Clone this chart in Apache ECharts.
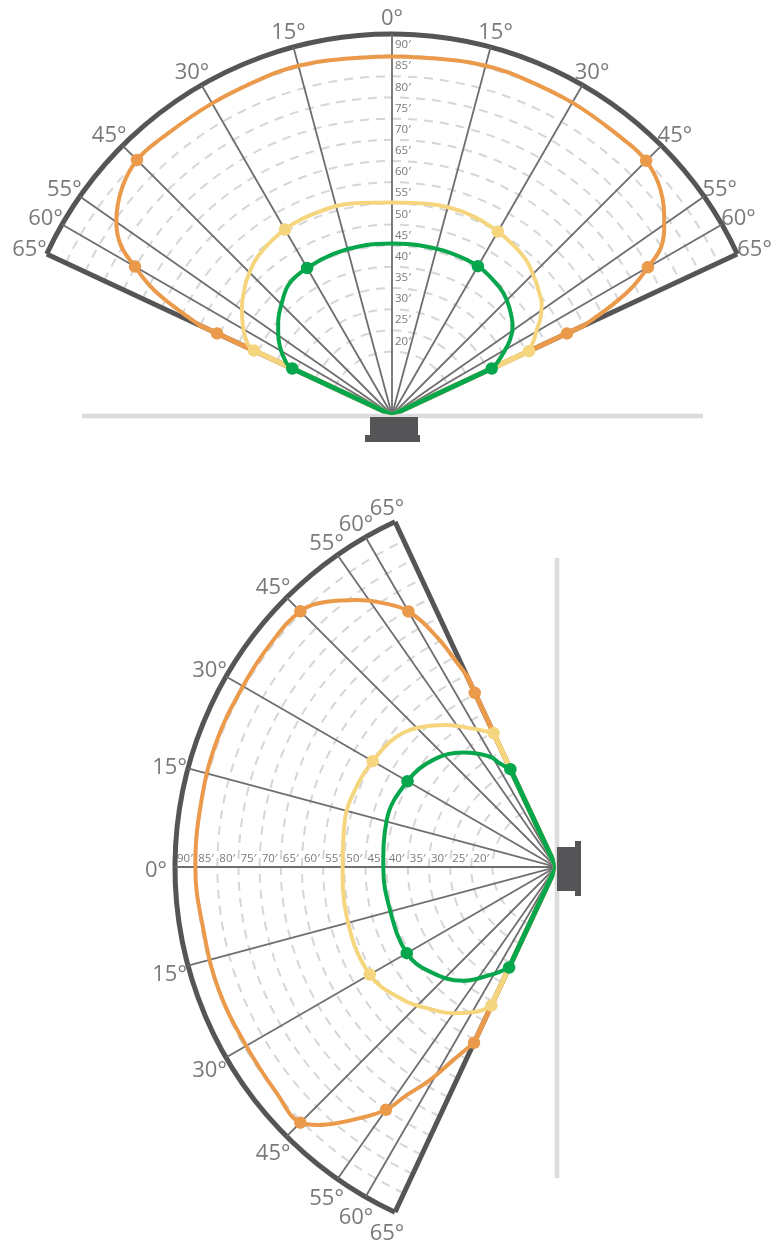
<!DOCTYPE html>
<html><head><meta charset="utf-8">
<script src="https://cdn.jsdelivr.net/npm/echarts@6/dist/echarts.min.js"></script>
<style>html,body{margin:0;padding:0;background:#fff}#c{width:781px;height:1245px}</style>
</head><body><div id="c"></div>
<script>
// ---------------- data (angle in degrees, value in ′) ----------------
const radiusLabelValues = [20,25,30,35,40,45,50,55,60,65,70,75,80,85,90];
const angleLabelValues = [-65,-60,-55,-45,-30,-15,0,15,30,45,55,60,65];
const spokeAngles = [-60,-55,-45,-30,-15,0,15,30,45,55,60];
const frameAngles = [-65,65];

// top chart (negative = left); legs = [angle, outer value] of the straight part down to the speaker
const topOrangeLobe = [[-65,50],[-63.5,58],[-62,64.5],[-60,70.1],[-58,75.5],[-55,79.5],[-50,83.3],[-45,85.2],[-40,85.1],[-30,85],[-20,85.3],[-15,85.4],[-10,85.1],[0,84.7],[10,85.1],[15,85.4],[20,85.4],[30,85.2],[40,85],[45,84.9],[50,82.8],[55,78.5],[58,75],[60,69.8],[62,64.3],[63.5,58],[65,50]];
const topOrangeLegs = [[-65,50],[65,50]];
const topOrangeDots = [[-65,45.6],[-60,70.1],[-45,85.2],[45,84.9],[60,69.8],[65,45.6]];

const topYellowLobe = [[-65,36],[-64,37.8],[-62,39.3],[-60,40.5],[-57,42.2],[-54,43.8],[-50,45.6],[-47,46.9],[-40,49.1],[-30,50.6],[-20,51],[-10,50.8],[0,50.2],[10,50.6],[20,50.8],[30,50],[40,48.6],[47,46.4],[50,45.3],[53.3,44.1],[57,41.8],[59.6,39.6],[62,38],[65,35.7]];
const topYellowLegs = [[-65,36],[65,35.7]];
const topYellowDots = [[-65,36],[-30,50.6],[30,50],[65,35.7]];

const topGreenLobe = [[-65,26],[-64,27.6],[-61,29.6],[-58.6,31],[-55,32.8],[-51,34.6],[-44.6,37.1],[-38,39.4],[-30,40.1],[-20,40.5],[-10,40.6],[0,40.5],[10,40.6],[20,40.7],[30,40.6],[38,39.7],[42.4,39],[47.5,37.6],[53.8,35.3],[57.6,33],[61,30],[63.5,27.8],[65,26]];
const topGreenLegs = [[-65,26],[65,26]];
const topGreenDots = [[-65,26],[-30,40.1],[30,40.6],[65,26]];

// bottom chart (positive = upper half)
const botOrangeLobe = [[-65,45.8],[-62,51.6],[-59.4,58.5],[-56.8,64.4],[-55,70],[-52,75.3],[-49.4,79.7],[-47.3,82.9],[-45,85.4],[-39,84.9],[-30,84.5],[-20,84.8],[-10,84.6],[0,85.2],[10,85.2],[20,85.5],[30,85.4],[38,85.6],[45,85.4],[49.2,82.8],[53.3,78.7],[56.8,74.5],[60,69.7],[62.6,61.3],[64.4,52.5],[65,50]];
const botOrangeLegs = [[65,50],[-65,45.8]];
const botOrangeDots = [[65,45.4],[60,69.7],[45,85.4],[-45,85.4],[-55,70],[-65,45.8]];

const botYellowLobe = [[-65,36.1],[-61.3,39],[-54.9,42.2],[-48,45],[-41.1,47.8],[-30,50.8],[-13.4,50.8],[0,50.4],[12.6,51.1],[21.9,50.8],[30,50],[39.3,48.6],[46.6,45.6],[52.4,42.3],[58.2,38.6],[61.9,36.5],[65,34.9]];
const botYellowLegs = [[65,34.9],[-65,36.1]];
const botYellowDots = [[65,34.9],[30,50],[-30,50.8],[-65,36.1]];

const botGreenLobe = [[-65,26.2],[-61.9,28],[-58.6,29.9],[-50.8,34.7],[-39.7,38.7],[-30,40.7],[-14.5,40.5],[0,40.8],[15.5,41.5],[30,40.5],[41.1,38.5],[51,34.8],[59.1,30.4],[61.6,27.8],[65,25.5]];
const botGreenLegs = [[65,25.5],[-65,26.2]];
const botGreenDots = [[65,25.5],[30,40.5],[-30,40.7],[-65,26.2]];

// ---------------- style / layout ----------------
const RMIN = 0, RMAX = 90, RSTEP = 5, RING_FROM = 15, RING_TO = 85;
const A_MIN = -65, A_MAX = 65;      // visible sector
const PAD = 15;                     // wider (invisible) sector for the marks so edge lines are not clipped
const LABEL_R = 94.5;               // where the angle labels sit (axis units)
const TOP_C = [392, 415], BOT_C = [556, 867], RADIUS = 381;
const TOP_MID = 90, BOT_MID = 180;  // screen direction of 0°
const ORANGE = '#EA9A4A', YELLOW = '#F5D67E', GREEN = '#06A64D';
const FRAME = '#555557', SPOKE = '#6e6e70', RING = '#d6d6d6', TXT = '#58585a';
const FONT = "'Open Sans', 'Noto Sans', sans-serif";

const P = arr => arr.map(([a, r]) => [r, a]);

const ringColors = [];
for (let v = RMIN; v <= RMAX; v += RSTEP) ringColors.push(v >= RING_FROM && v <= RING_TO ? RING : 'rgba(0,0,0,0)');

// polar 0 / 2: visible frames (arc + rings); polar 1 / 3: the marks
function frameAngleAxis(pi, mid) {
  return {
    polarIndex: pi, type: 'value', min: A_MIN, max: A_MAX, interval: 5,
    startAngle: mid - A_MIN, endAngle: mid - A_MAX, clockwise: true,
    axisLine: {show: true, lineStyle: {color: FRAME, width: 5}},
    axisTick: {show: false}, splitLine: {show: false}, axisLabel: {show: false}
  };
}
function dataAngleAxis(pi, mid) {
  return {
    polarIndex: pi, type: 'value', min: A_MIN - PAD, max: A_MAX + PAD, interval: 5,
    startAngle: mid - (A_MIN - PAD), endAngle: mid - (A_MAX + PAD), clockwise: true,
    axisLine: {show: false}, axisTick: {show: false}, splitLine: {show: false}, axisLabel: {show: false}
  };
}
function radiusAxis(pi, rings) {
  return {
    polarIndex: pi, type: 'value', min: RMIN, max: RMAX, interval: RSTEP,
    axisLine: {show: false}, axisTick: {show: false}, axisLabel: {show: false},
    splitLine: {show: rings, lineStyle: {color: ringColors, width: 2, type: [9, 7]}}
  };
}
function radial(pi, a, from, to, style, z) {
  return {type: 'line', coordinateSystem: 'polar', polarIndex: pi, clip: false, silent: true,
    data: [[from, a], [to, a]], symbol: 'none', z, lineStyle: style};
}
function spokes(pi) {
  return spokeAngles.map(a => radial(pi, a, RMIN, RMAX, {color: SPOKE, width: 1.8}, 1))
    .concat(frameAngles.map(a => radial(pi, a, RMIN, RMAX, {color: FRAME, width: 5}, 1)));
}
function curve(pi, lobe, legs, dots, color, z) {
  return legs.map(([a, r]) => radial(pi, a, r, RMIN, {color, width: 5, cap: 'round'}, z)).concat([
    {type: 'line', coordinateSystem: 'polar', polarIndex: pi, clip: false, data: P(lobe), symbol: 'none', z,
      smooth: 0.4, lineStyle: {color, width: 4}},
    {type: 'scatter', coordinateSystem: 'polar', polarIndex: pi, clip: false, data: P(dots), symbol: 'circle',
      symbolSize: 12.5, z, itemStyle: {color, opacity: 1}}
  ]);
}
function radiusLabels(pi, pos, vAlign) {
  return {type: 'scatter', coordinateSystem: 'polar', polarIndex: pi, clip: false, silent: true, z: 2,
    data: radiusLabelValues.map(v => [v, 0]), symbol: 'circle', symbolSize: 2,
    itemStyle: {color: 'rgba(0,0,0,0)'},
    label: {show: true, position: pos, align: 'left', verticalAlign: vAlign,
      formatter: p => p.value[0] + '′', color: '#58585a', fontSize: 11.5, fontFamily: FONT}};
}
function angleLabels(pi) {
  return {type: 'scatter', coordinateSystem: 'polar', polarIndex: pi, clip: false, silent: true, z: 2,
    data: angleLabelValues.map(a => [LABEL_R, a]), symbol: 'circle', symbolSize: 2,
    itemStyle: {color: 'rgba(0,0,0,0)'},
    label: {show: true, position: 'inside', align: 'center', verticalAlign: 'middle', offset: [0, 4],
      formatter: p => Math.abs(p.value[1]) + '°', color: TXT, fontSize: 22, fontFamily: FONT}};
}

const chart = echarts.init(document.getElementById('c'), null, {renderer: 'canvas'});
chart.setOption({
  animation: false,
  backgroundColor: '#fff',
  polar: [
    {center: TOP_C, radius: [0, RADIUS]},
    {center: TOP_C, radius: [0, RADIUS]},
    {center: BOT_C, radius: [0, RADIUS]},
    {center: BOT_C, radius: [0, RADIUS]}
  ],
  angleAxis: [frameAngleAxis(0, TOP_MID), dataAngleAxis(1, TOP_MID), frameAngleAxis(2, BOT_MID), dataAngleAxis(3, BOT_MID)],
  radiusAxis: [radiusAxis(0, true), radiusAxis(1, false), radiusAxis(2, true), radiusAxis(3, false)],
  graphic: [
    {type: 'line', z: 0, shape: {x1: TOP_C[0] - 310, y1: TOP_C[1] + 1, x2: TOP_C[0] + 311, y2: TOP_C[1] + 1},
      style: {stroke: '#dcdcdc', lineWidth: 4.5}},
    {type: 'rect', z: 0, shape: {x: TOP_C[0] - 22, y: TOP_C[1] + 2, width: 48, height: 19}, style: {fill: FRAME}},
    {type: 'rect', z: 0, shape: {x: TOP_C[0] - 27, y: TOP_C[1] + 20, width: 55, height: 7}, style: {fill: FRAME}},
    {type: 'line', z: 0, shape: {x1: BOT_C[0] + 1, y1: BOT_C[1] - 309, x2: BOT_C[0] + 1, y2: BOT_C[1] + 311},
      style: {stroke: '#dcdcdc', lineWidth: 4.5}},
    {type: 'rect', z: 0, shape: {x: BOT_C[0] + 1, y: BOT_C[1] - 20, width: 19, height: 44}, style: {fill: FRAME}},
    {type: 'rect', z: 0, shape: {x: BOT_C[0] + 19, y: BOT_C[1] - 26, width: 6, height: 55}, style: {fill: FRAME}}
  ],
  series: [].concat(
    spokes(1), spokes(3),
    radiusLabels(1, [4, 6], 'top'),
    radiusLabels(3, [3, -1], 'bottom'),
    angleLabels(1), angleLabels(3),
    curve(1, topOrangeLobe, topOrangeLegs, topOrangeDots, ORANGE, 3),
    curve(1, topYellowLobe, topYellowLegs, topYellowDots, YELLOW, 4),
    curve(1, topGreenLobe, topGreenLegs, topGreenDots, GREEN, 5),
    curve(3, botOrangeLobe, botOrangeLegs, botOrangeDots, ORANGE, 3),
    curve(3, botYellowLobe, botYellowLegs, botYellowDots, YELLOW, 4),
    curve(3, botGreenLobe, botGreenLegs, botGreenDots, GREEN, 5)
  )
});
</script></body></html>
